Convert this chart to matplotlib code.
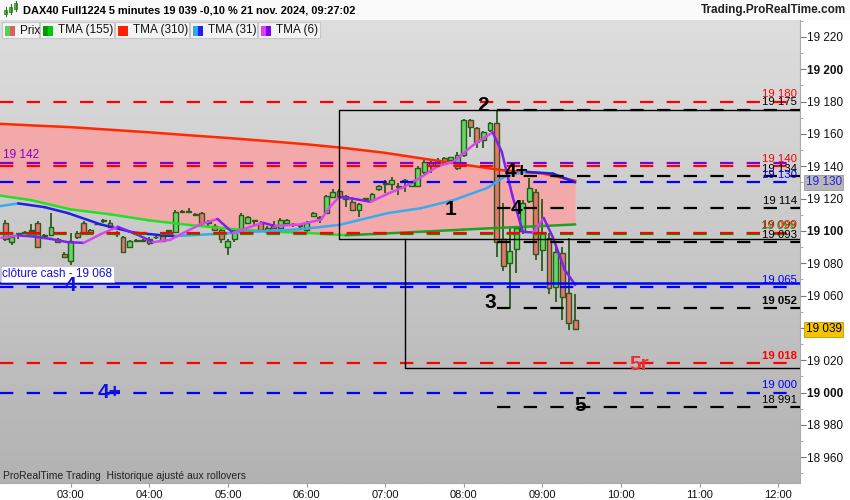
import numpy as np
import matplotlib.pyplot as plt
from matplotlib.colors import LinearSegmentedColormap
from matplotlib.patches import Rectangle
from matplotlib.collections import LineCollection

plt.rcParams['font.family'] = ['Liberation Sans', 'DejaVu Sans']


def hrs(t):
    h, m = t.split(':')
    return int(h) + int(m) / 60.0


def price_fmt(v):
    v = int(round(v))
    return '%d %03d' % (v // 1000, v % 1000)


# --- 5 minute candles, first bar 02:10 ---
bar_start = '02:10'
opens = [19105, 19093, 19098, 19099, 19100, 19105, 19097, 19097.5, 19095, 19086,
         19081.5, 19099, 19105, 19099, 19104, 19106, 19105, 19099, 19096, 19090,
         19094, 19094, 19095, 19096, 19097, 19100, 19099.5, 19112, 19112, 19110,
         19111, 19105, 19103, 19100.5, 19090, 19095, 19099.5, 19105, 19106, 19105,
         19099.5, 19103.5, 19102, 19105, 19104, 19103, 19100.5, 19109, 19108, 19111,
         19121, 19124.5, 19119.5, 19118, 19113, 19120, 19119, 19126, 19129, 19129,
         19127, 19131, 19128, 19128, 19136.5, 19140, 19141, 19145, 19144, 19139,
         19147, 19168.6, 19163.7, 19156, 19162.5, 19167, 19095, 19080, 19089, 19100,
         19118.5, 19124, 19088, 19095.7, 19065.4, 19086.4, 19061.7, 19045]
highs = [19107, 19097, 19099, 19100, 19104, 19106, 19098, 19111, 19095.5, 19087,
         19099, 19100, 19106, 19101, 19104.5, 19107.5, 19107, 19100, 19097, 19094.5,
         19095, 19095, 19096, 19097, 19098, 19100.5, 19113, 19113, 19114, 19111,
         19112, 19107, 19104, 19101, 19095, 19102, 19111, 19109, 19107, 19106,
         19103, 19106, 19108, 19107.5, 19105, 19104, 19106, 19111.5, 19109.5, 19122,
         19126, 19126, 19122, 19119, 19117, 19120.5, 19123.5, 19128.5, 19131.5, 19133.5,
         19129.5, 19132, 19131, 19140, 19144, 19143, 19145, 19146, 19146, 19149,
         19169, 19169, 19164, 19162, 19167.5, 19175, 19117, 19102, 19103, 19119,
         19133, 19126, 19120, 19099, 19092, 19090, 19095.7, 19061]
lows = [19094, 19091, 19095, 19098, 19099, 19090, 19096, 19097, 19092.5, 19083,
        19079, 19095, 19098, 19098, 19103.5, 19105, 19102, 19096, 19087, 19089.5,
        19093, 19093, 19091.5, 19095, 19093, 19099, 19099, 19111, 19111, 19109,
        19104, 19103, 19100, 19092.5, 19085, 19093, 19099, 19104.5, 19103.5, 19100,
        19098.5, 19101.5, 19101, 19104.5, 19102.5, 19102, 19099, 19108.5, 19105, 19110.5,
        19120.5, 19120.5, 19115, 19112.5, 19108.7, 19119.5, 19118.5, 19124.5, 19123.5, 19125.5,
        19122, 19124, 19127.5, 19127.5, 19135.5, 19136, 19140.5, 19141.5, 19143.5, 19137.5,
        19146, 19158, 19151, 19151, 19161, 19084, 19075, 19052, 19074, 19098,
        19117, 19082, 19075, 19061, 19056, 19045, 19038.8, 19038.8]
closes = [19095, 19096, 19098, 19099, 19100, 19090, 19097, 19102.5, 19093, 19084,
          19093.5, 19096, 19099, 19100.5, 19104, 19106, 19102.5, 19098, 19087, 19094,
          19094, 19094, 19092.5, 19096, 19094, 19100, 19112, 19112, 19112, 19110,
          19105, 19105, 19100.5, 19095, 19094, 19100.5, 19110, 19108.5, 19106, 19100.5,
          19102, 19102, 19107, 19107, 19104, 19103, 19105, 19111, 19108, 19121.5,
          19124, 19121, 19121.5, 19113, 19116.7, 19120, 19123, 19127.5, 19129, 19131.5,
          19127, 19131.5, 19130, 19139, 19142.7, 19142, 19144, 19142, 19145.5, 19147,
          19168.6, 19164, 19155, 19161, 19166.8, 19093, 19078, 19087.6, 19102, 19117,
          19126.6, 19086, 19099, 19064.7, 19087, 19059.2, 19043, 19039]

# --- moving averages ---
tma_long_t = ['02:05', '02:30', '03:00', '03:30', '04:00', '04:30', '05:00', '05:30',
              '06:00', '06:30', '07:00', '07:30', '08:00', '08:30', '09:00', '09:25']
tma310 = [19166.3, 19165.3, 19164.2, 19162.6, 19161, 19159.2, 19157.5, 19155.6,
          19153.6, 19151.2, 19148.3, 19144.6, 19141, 19137.5, 19135.6, 19131]
tma155 = [19122, 19119, 19113.3, 19110.3, 19106.5, 19103.7, 19101.4, 19099.6,
          19098.8, 19097.3, 19098.4, 19099.6, 19100.8, 19102, 19103, 19104]

tma31_t = ['02:05', '02:20', '02:40', '02:58', '03:23', '03:48', '04:13', '04:20', '05:04',
           '05:55', '06:25', '07:02', '07:27', '07:52', '08:18', '08:33', '08:48', '09:08', '09:25']
tma31 = [19115.2, 19117, 19114.7, 19111, 19104, 19099, 19097, 19096.8, 19098.7,
         19101, 19103.7, 19111, 19114, 19119, 19126.6, 19134.6, 19136.5, 19135.5, 19130]

tma6_t = ['02:07', '02:20', '02:32', '02:45', '02:58', '03:10', '03:23', '03:36', '03:50',
          '04:03', '04:16', '04:26', '04:39', '04:52', '05:04', '05:17', '05:27', '05:36',
          '05:55', '06:11', '06:18', '06:25', '06:35', '06:49', '07:02', '07:14', '07:27',
          '07:40', '07:52', '08:07', '08:22', '08:29', '08:37', '08:45', '08:53', '09:01',
          '09:08', '09:17', '09:25']
tma6 = [19095.7, 19097.2, 19096.5, 19095, 19093, 19092.6, 19098, 19102.5, 19098,
        19093, 19094.5, 19098.7, 19104, 19107.4, 19098.7, 19102.5, 19105, 19103,
        19104, 19107, 19115, 19121, 19120, 19118, 19123, 19127, 19133,
        19140, 19142.7, 19153, 19161, 19149, 19122, 19099.4, 19099, 19108,
        19096, 19076, 19066.6]

# --- horizontal levels ---
full_levels = [19180, 19142, 19140, 19130, 19098.3, 19099, 19065, 19018, 19000]
full_colors = ['#ff0000', '#8000d0', '#ff0000', '#0000ff', '#00a000', '#ff0000',
               '#0000ff', '#ff0000', '#0000ff']
black_levels = [19175, 19134, 19114, 19093, 19052, 18991]
black_start = '08:25'
right_labels = [(19180, '#ff0000'), (19175, '#000000'), (19140, '#ff0000'),
                (19134, '#000000'), (19130, '#0000ff'), (19114, '#000000'),
                (19099, '#ff0000'), (19093, '#000000'), (19065, '#0000ff'),
                (19052, '#000000'), (19018, '#ff0000'), (19000, '#0000ff'),
                (18991, '#000000')]
cash_close = 19068
box_top, box_mid, box_bot = 19175, 19095, 19015
box1_left, box2_left = '06:25', '07:15'

wave_labels = [('2', '08:15', 19177.5, 'black'), ('1', '07:50', 19113, 'black'),
               ('4+', '08:40', 19136.5, 'black'), ('4', '08:40', 19114, 'black'),
               ('3', '08:20', 19056, 'black'), ('5r', '10:14', 19017.5, '#e83030'),
               ('5', '09:29', 18992, 'black'), ('4', '03:00', 19066.5, '#1010e0'),
               ('4+', '03:30', 19000, '#1010e0')]

last_price = 19039
tma31_last = 19130

x0, x1 = hrs('02:07') - 0.015, 12.276
y0, y1 = 18944, 19230.5

fig = plt.figure(figsize=(8.5, 5), dpi=100)
ax = fig.add_axes([0, 17 / 500, 800 / 850, 463 / 500])

bg = LinearSegmentedColormap.from_list('bg', ['#dedede', '#b2b2b2'])
ax.imshow(np.linspace(0, 1, 256).reshape(-1, 1), cmap=bg, aspect='auto',
          extent=[x0, x1, y0, y1], zorder=0)

xl = np.array([hrs(t) for t in tma_long_t])
ax.fill_between(xl, tma155, tma310, color='#f3a9a9', lw=0, zorder=1)

# candles
tb = hrs(bar_start) + np.arange(len(opens)) * 5 / 60.0
o = np.array(opens); c = np.array(closes)
edge = '#2c5a1c'
ax.vlines(tb, lows, highs, color=edge, lw=1.3, zorder=3)
bot = np.minimum(o, c)
hgt = np.maximum(np.abs(c - o), 0.5)
cols = ['#62d862' if cc >= oo else '#e8746e' for oo, cc in zip(o, c)]
ax.bar(tb, hgt, bottom=bot, width=0.062, color=cols, edgecolor=edge, linewidth=1.0, zorder=4)


def two_tone(times, vals, up, down, lw=1.8):
    x = np.array([hrs(t) for t in times])
    y = np.array(vals)
    segs = [[(x[i], y[i]), (x[i + 1], y[i + 1])] for i in range(len(x) - 1)]
    cl = [up if y[i + 1] >= y[i] else down for i in range(len(x) - 1)]
    ax.add_collection(LineCollection(segs, colors=cl, linewidths=lw, zorder=5,
                                     capstyle='round', joinstyle='round'))


two_tone(tma_long_t, tma155, '#20a020', '#22e022')
ax.plot(xl, tma310, color='#ff2a00', lw=1.8, zorder=5)
two_tone(tma31_t, tma31, '#3aaaf0', '#2020e0')
two_tone(tma6_t, tma6, '#d848ee', '#8020f0')

dash = (0, (6, 6))
for v, col in zip(full_levels, full_colors):
    ax.plot([x0, x1], [v, v], color=col, lw=1.6, ls=dash, zorder=6)
for v in black_levels:
    ax.plot([hrs(black_start), x1], [v, v], color='black', lw=1.6, ls=dash, zorder=6)
ax.plot([x0, x1], [cash_close, cash_close], color='#0000ff', lw=1.8, zorder=6)

# boxes
b1, b2 = hrs(box1_left), hrs(box2_left)
ax.plot([x1, b1, b1, x1], [box_top, box_top, box_mid, box_mid], color='black', lw=1, zorder=6)
ax.plot([b2, b2, x1], [box_mid, box_bot, box_bot], color='black', lw=1, zorder=6)

ty = ax.get_yaxis_transform()
for v, col in right_labels:
    if v == 19099:
        ax.text(0.995, v + 1.0, price_fmt(v), color='#00a000', fontsize=8.2,
                ha='right', va='bottom', transform=ty, zorder=7)
    ax.text(0.996, v + 1.4, price_fmt(v), color=col, fontsize=8.2, ha='right',
            va='bottom', transform=ty, zorder=7,
            fontweight='bold' if v in (19052, 19018) else 'normal')
ax.text(0.004, 19142 + 1.4, price_fmt(19142), color='#8000d0', fontsize=8.5,
        ha='left', va='bottom', transform=ty, zorder=7)
ax.text(0.003, cash_close + 1.6, 'clôture cash - ' + price_fmt(cash_close), color='#1010e0',
        fontsize=8.5, ha='left', va='bottom', transform=ty, zorder=7,
        bbox=dict(facecolor='white', edgecolor='#c0c0e0', lw=0.6, pad=1.2))

for txt, t, v, col in wave_labels:
    ax.text(hrs(t), v, txt, color=col, fontsize=15, fontweight='bold',
            ha='center', va='center', zorder=8)

# axes
ax.set_xlim(x0, x1)
ax.set_ylim(y0, y1)
ax.yaxis.tick_right()
yt = list(range(18960, 19221, 20))
ax.set_yticks(yt)
ax.set_yticklabels([price_fmt(v) for v in yt])
ax.set_yticks(list(range(18950, 19231, 10)), minor=True)
for lab, v in zip(ax.get_yticklabels(), yt):
    if v % 100 == 0:
        lab.set_fontweight('bold')
        lab.set_fontsize(10)
xt = list(range(3, 13))
ax.set_xticks(xt)
ax.set_xticklabels(['%02d:00' % h for h in xt])
ax.tick_params(axis='y', labelsize=8.5, length=4, color='#777777', pad=1, labelcolor='#111111')
ax.tick_params(axis='y', which='minor', length=2.5, color='#999999')
ax.tick_params(axis='x', labelsize=8, length=3, color='#999999', pad=2, labelcolor='#111111')
for s in ('top', 'left'):
    ax.spines[s].set_visible(False)
ax.spines['right'].set_color('#aaaaaa')
ax.spines['bottom'].set_color('#aaaaaa')

ax.text(1.007, tma31_last, price_fmt(tma31_last), color='#2020e0', fontsize=8.5,
        ha='left', va='center', transform=ty, zorder=9, clip_on=False,
        bbox=dict(facecolor='#b8b8b8', edgecolor='#999999', lw=0.6, pad=1.2))
ax.text(1.007, last_price, price_fmt(last_price), color='black', fontsize=8.5,
        ha='left', va='center', transform=ty, zorder=9, clip_on=False,
        bbox=dict(facecolor='#f5c400', edgecolor='#c89a00', lw=0.6, pad=1.2))

# header, legend, footer (pixel overlay)
ov = fig.add_axes([0, 0, 1, 1], zorder=10)
ov.set_xlim(0, 850)
ov.set_ylim(500, 0)
ov.axis('off')
ov.add_patch(Rectangle((0, 0), 850, 20, fc='#fafafa', ec='none'))
for cx, yb, yt_, bb, bt in [(6, 16, 7, 14, 10), (11, 14, 4, 12, 7), (16, 11, 1, 9, 3)]:
    ov.plot([cx, cx], [yt_, yb], color='#2c7a1c', lw=0.8)
    ov.add_patch(Rectangle((cx - 1.5, bt), 3, bb - bt, fc='#50c050', ec='#2c7a1c', lw=0.5))
ov.text(23, 10.5, 'DAX40 Full1224 5 minutes 19 039 -0,10 % 21 nov. 2024, 09:27:02',
        fontsize=7.9, fontweight='bold', va='center', ha='left')
ov.text(846, 10.5, 'Trading.ProRealTime.com', fontsize=8.5, fontweight='bold',
        va='center', ha='right', color='#222222')

legend_items = [('Prix', '#58d058', '#e06060', 2, 37),
                ('TMA (155)', '#009900', '#00cc00', 40, 74),
                ('TMA (310)', '#ff2000', '#ff2000', 115, 74),
                ('TMA (31)', '#30a8f0', '#2020f0', 190, 67),
                ('TMA (6)', '#e040f0', '#8000f0', 258, 62)]
for name, ca, cb, lx, lw_ in legend_items:
    ov.add_patch(Rectangle((lx, 22), lw_, 16, fc='#f3f3f3', ec='#c8c8c8', lw=0.8))
    ov.add_patch(Rectangle((lx + 3, 26), 5, 10, fc=ca, ec='none'))
    ov.add_patch(Rectangle((lx + 8, 26), 5, 10, fc=cb, ec='none'))
    ov.text(lx + 18, 30.5, name, fontsize=8.5, va='center', ha='left', color='#111111')
ov.text(3, 476, 'ProRealTime Trading  Historique ajusté aux rollovers', fontsize=7.5,
        va='center', ha='left', color='#222222')

fig.savefig('out.png', dpi=100, facecolor='white')
